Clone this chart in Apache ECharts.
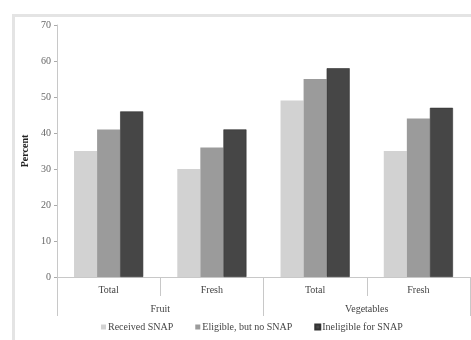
<!DOCTYPE html>
<html><head><meta charset="utf-8">
<script src="https://cdn.jsdelivr.net/npm/echarts@6/dist/echarts.min.js"></script>
<style>html,body{margin:0;padding:0;background:#fff}#c{width:471px;height:340px}</style>
</head><body><div id="c"></div>
<script>
const subCategories = ['Total', 'Fresh', 'Total', 'Fresh'];
const groupCategories = ['Fruit', 'Vegetables'];
const seriesNames = ['Received SNAP', 'Eligible, but no SNAP', 'Ineligible for SNAP'];
const receivedSNAP = [35, 30, 49, 35];
const eligibleNoSNAP = [41, 36, 55, 44];
const ineligibleSNAP = [46, 41, 58, 47];
const yTicks = { min: 0, max: 70, interval: 10 };

const colors = ['#d2d2d2', '#9b9b9b', '#464646'];
const font = 'Liberation Serif';
const chart = echarts.init(document.getElementById('c'));
chart.setOption({
  animation: false,
  color: colors,
  textStyle: { fontFamily: font },
  grid: { left: 57, right: 1, top: 25, bottom: 63 },
  graphic: [{
    type: 'rect', left: 11, top: 13, silent: true,
    shape: { x: 0, y: 0, width: 480, height: 340 },
    style: { fill: 'none', stroke: '#e4e4e4', lineWidth: 3 }
  }],
  legend: {
    bottom: 3, left: 96, itemWidth: 5, itemHeight: 5, itemGap: 22,
    icon: 'rect',
    textStyle: { fontFamily: font, fontSize: 10, color: '#444', padding: [0, 0, 0, -3] },
    data: seriesNames
  },
  xAxis: [{
    type: 'category', data: subCategories, position: 'bottom',
    axisLine: { lineStyle: { color: '#c8c8c8', width: 1 } },
    axisTick: { show: true, interval: 0, length: 19, lineStyle: { color: '#c8c8c8' } },
    axisLabel: { fontFamily: font, fontSize: 10, color: '#444', margin: 8 }
  }, {
    type: 'category', data: groupCategories, position: 'bottom',
    axisLine: { show: false },
    axisTick: { show: true, interval: 0, length: 39, lineStyle: { color: '#c8c8c8' } },
    axisLabel: { fontFamily: font, fontSize: 10, color: '#444', margin: 27 }
  }],
  yAxis: {
    type: 'value', min: yTicks.min, max: yTicks.max, interval: yTicks.interval,
    name: 'Percent', nameLocation: 'middle', nameRotate: 90, nameGap: 24,
    nameTextStyle: { fontFamily: font, fontSize: 10, color: '#222', fontWeight: 'bold' },
    axisLine: { show: true, lineStyle: { color: '#c8c8c8' } },
    axisTick: { show: true, length: 3, lineStyle: { color: '#aaa' } },
    axisLabel: { fontFamily: font, fontSize: 10, color: '#666', margin: 6 },
    splitLine: { show: false }
  },
  series: [
    { name: seriesNames[0], type: 'bar', data: receivedSNAP, barGap: '0%', barCategoryGap: '33%' },
    { name: seriesNames[1], type: 'bar', data: eligibleNoSNAP, barGap: '0%', barCategoryGap: '33%' },
    { name: seriesNames[2], type: 'bar', data: ineligibleSNAP, barGap: '0%', barCategoryGap: '33%',
      itemStyle: { borderColor: '#333', borderWidth: 0.6 } }
  ]
});
</script></body></html>
